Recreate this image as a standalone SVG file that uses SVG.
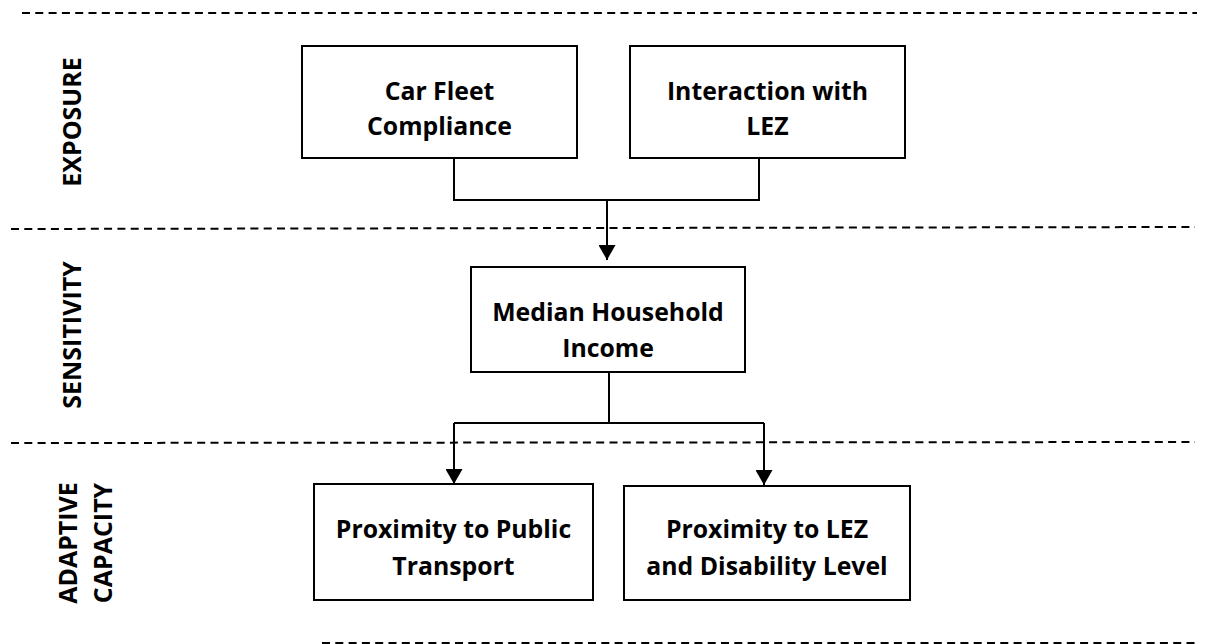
<svg xmlns="http://www.w3.org/2000/svg" width="1209" height="644" viewBox="0 0 1209 644">
<defs>
<style>
.box{fill:#fff;stroke:#000;stroke-width:2}
.t{font-family:"Open Sans","Liberation Sans",sans-serif;font-weight:bold;font-size:24.8px;fill:#000;text-anchor:middle}
.lab{font-family:"Open Sans","Liberation Sans",sans-serif;font-weight:bold;font-size:25px;fill:#000;text-anchor:middle}
.dash{stroke:#000;stroke-width:2;stroke-dasharray:8 5.3;fill:none}
.c{stroke:#000;stroke-width:2;fill:none}
</style>
<marker id="ah" markerUnits="userSpaceOnUse" markerWidth="16" markerHeight="17" viewBox="0 0 16 17" refX="15" refY="8.5" orient="auto">
<path d="M0,0 L15,8.5 L0,17 Z" fill="#000"/>
</marker>
</defs>
<rect width="1209" height="644" fill="#fff"/>
<g id="separators">
<line class="dash" x1="22" y1="13" x2="1197" y2="13"/>
<line class="dash" x1="11" y1="229" x2="1195" y2="227"/>
<line class="dash" x1="11" y1="443" x2="1195" y2="442"/>
<line class="dash" x1="322" y1="643" x2="1199" y2="643" stroke="#555"/>
</g>
<g id="labels">
<text class="lab" transform="translate(81,122) rotate(-90)">EXPOSURE</text>
<text class="lab" transform="translate(81,335) rotate(-90)">SENSITIVITY</text>
<text class="lab" transform="translate(77,543) rotate(-90)">ADAPTIVE</text>
<text class="lab" transform="translate(112,543) rotate(-90)">CAPACITY</text>
</g>
<g id="connectors">
<path class="c" d="M454 158 V200 H759 V158"/>
<path class="c" d="M607 200 V260" marker-end="url(#ah)"/>
<path class="c" d="M609 372 V423"/>
<path class="c" d="M454 423 H764"/>
<path class="c" d="M454 423 V484" marker-end="url(#ah)"/>
<path class="c" d="M764 423 V485" marker-end="url(#ah)"/>
</g>
<g id="car-fleet">
<rect class="box" x="302" y="46" width="275" height="112"/>
<text class="t" x="439.5" y="100">Car Fleet</text>
<text class="t" x="439.5" y="135">Compliance</text>
</g>
<g id="interaction">
<rect class="box" x="630" y="46" width="275" height="112"/>
<text class="t" x="767.5" y="100">Interaction with</text>
<text class="t" x="767.5" y="135">LEZ</text>
</g>
<g id="income">
<rect class="box" x="471" y="267" width="274" height="105"/>
<text class="t" x="608" y="321">Median Household</text>
<text class="t" x="608" y="357">Income</text>
</g>
<g id="public-transport">
<rect class="box" x="314" y="484" width="279" height="116"/>
<text class="t" x="453.5" y="538">Proximity to Public</text>
<text class="t" x="453.5" y="575">Transport</text>
</g>
<g id="lez-disability">
<rect class="box" x="624" y="486" width="286" height="114"/>
<text class="t" x="767" y="538">Proximity to LEZ</text>
<text class="t" x="767" y="575">and Disability Level</text>
</g>
</svg>
